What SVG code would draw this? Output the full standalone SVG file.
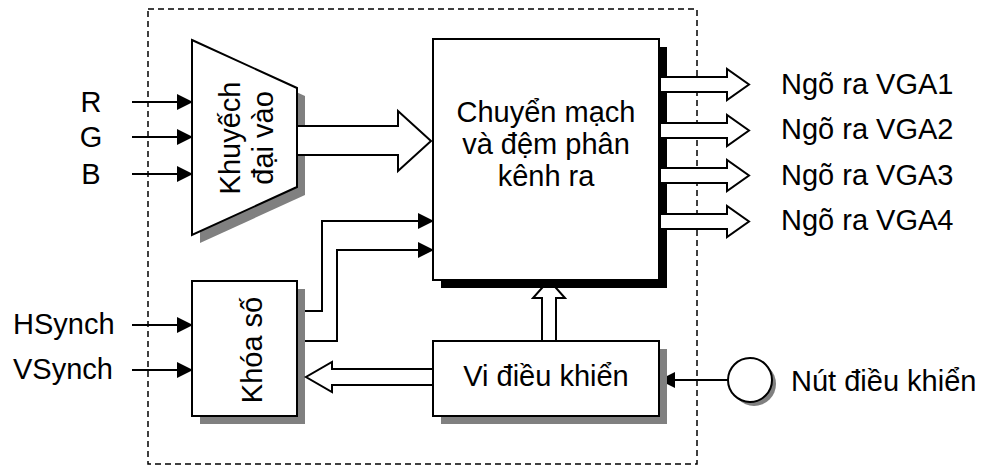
<svg xmlns="http://www.w3.org/2000/svg" width="988" height="470" viewBox="0 0 988 470">
<defs>
<style>
.t{font-family:"Liberation Sans",Arial,sans-serif;font-size:29px;fill:#000}
.box{fill:#fff;stroke:#000;stroke-width:2}
.gs{fill:#808080;stroke:none}
.bs{fill:#000;stroke:none}
.ln{fill:none;stroke:#000;stroke-width:2}
.ha{fill:#fff;stroke:#000;stroke-width:2;stroke-linejoin:miter}
</style>
<marker id="ah" markerWidth="16" markerHeight="16" viewBox="0 0 16 16" refX="15" refY="8" orient="auto" markerUnits="userSpaceOnUse">
<path d="M0,0 L16,8 L0,16 Z" fill="#000"/>
</marker>
</defs>
<rect x="0" y="0" width="988" height="470" fill="#fff"/>
<rect id="boundary" x="148" y="9" width="549" height="455" fill="none" stroke="#000" stroke-width="1.5" stroke-dasharray="6,4"/>

<g id="connectors">
<line class="ln" x1="132" y1="102" x2="192" y2="102" marker-end="url(#ah)"/>
<line class="ln" x1="132" y1="137" x2="192" y2="137" marker-end="url(#ah)"/>
<line class="ln" x1="132" y1="174" x2="192" y2="174" marker-end="url(#ah)"/>
<line class="ln" x1="132" y1="325" x2="192" y2="325" marker-end="url(#ah)"/>
<line class="ln" x1="132" y1="370" x2="192" y2="370" marker-end="url(#ah)"/>
<polyline class="ln" points="305,311 322,311 322,221 433,221" marker-end="url(#ah)"/>
<polyline class="ln" points="305,341 337,341 337,250 433,250" marker-end="url(#ah)"/>
<line class="ln" x1="728" y1="380" x2="660" y2="380" marker-end="url(#ah)"/>
<polygon class="ha" points="542,341 542,298 533,298 549,280 565,298 556,298 556,341"/>
</g>

<g id="amp">
<polygon class="gs" points="200,48 305,96 305,195 200,243"/>
<polygon class="box" points="192,40 297,88 297,187 192,235"/>
<text class="t" text-anchor="middle" transform="translate(240,138) rotate(-90)">Khuyếch</text>
<text class="t" text-anchor="middle" transform="translate(273,138) rotate(-90)">đại vào</text>
</g>

<g id="switch">
<rect class="bs" x="441" y="47" width="226" height="241"/>
<rect class="box" x="433" y="39" width="226" height="241"/>
<text class="t" text-anchor="middle" x="546" y="122">Chuyển mạch</text>
<text class="t" text-anchor="middle" x="546" y="154">và đệm phân</text>
<text class="t" text-anchor="middle" x="546" y="186">kênh ra</text>
</g>

<g id="lock">
<rect class="gs" x="200" y="289" width="105" height="135"/>
<rect class="box" x="192" y="281" width="105" height="135"/>
<text class="t" text-anchor="middle" transform="translate(262,350) rotate(-90)">Khóa số</text>
</g>

<g id="mcu">
<rect class="gs" x="441" y="349" width="226" height="75"/>
<rect class="box" x="433" y="341" width="226" height="75"/>
<text class="t" text-anchor="middle" x="546" y="386">Vi điều khiển</text>
</g>

<g id="bus-arrows">
<polygon class="ha" points="297,126 398,126 398,111 431,141 398,171 398,155 297,155"/>
<polygon class="ha" points="433,369 332,369 332,362 306,377 332,392 332,385 433,385"/>
<polygon class="ha" points="660,77 727,77 727,69 749,84.5 727,100 727,92 660,92"/>
<polygon class="ha" points="660,123 727,123 727,115 749,130.5 727,146 727,138 660,138"/>
<polygon class="ha" points="660,168 727,168 727,160 749,175.5 727,191 727,183 660,183"/>
<polygon class="ha" points="660,214 727,214 727,206 749,221.5 727,237 727,229 660,229"/>
</g>

<g id="button">
<circle class="gs" cx="754" cy="384" r="22"/>
<circle class="box" cx="750" cy="380" r="22"/>
</g>

<g id="labels">
<text class="t" text-anchor="middle" x="91" y="112">R</text>
<text class="t" text-anchor="middle" x="91" y="147">G</text>
<text class="t" text-anchor="middle" x="91" y="184">B</text>
<text class="t" x="13" y="334">HSynch</text>
<text class="t" x="13" y="379">VSynch</text>
<text class="t" x="781" y="94">Ngõ ra VGA1</text>
<text class="t" x="781" y="139">Ngõ ra VGA2</text>
<text class="t" x="781" y="185">Ngõ ra VGA3</text>
<text class="t" x="781" y="230">Ngõ ra VGA4</text>
<text class="t" x="791" y="391">Nút điều khiển</text>
</g>
</svg>
